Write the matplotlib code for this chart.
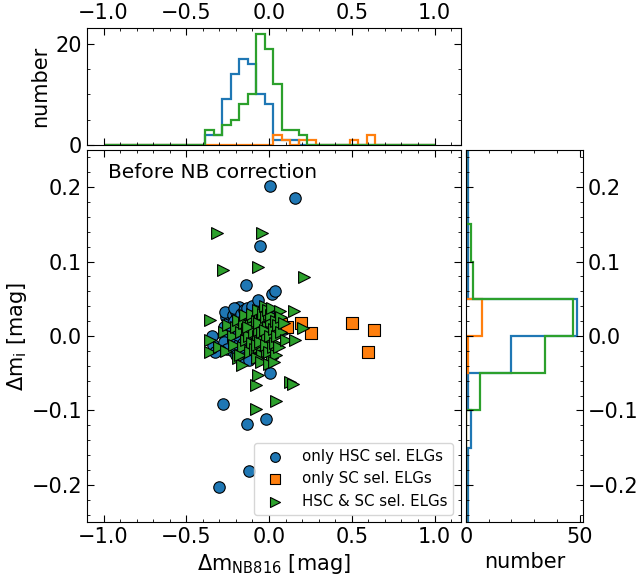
import numpy as np
import matplotlib
matplotlib.use('Agg')
import matplotlib.pyplot as plt
from matplotlib.ticker import MultipleLocator

# scatter points
hsc_x = [-0.347, -0.338, -0.325, -0.303,
         -0.27, -0.26, -0.25, -0.275, -0.245, -0.255, -0.24, -0.265, -0.277,
         -0.18, -0.22, -0.21, -0.2, -0.19, -0.225, -0.205, -0.195, -0.215, -0.185, -0.22, -0.2, -0.19, -0.21,
         -0.17, -0.16, -0.15, -0.14, -0.165, -0.155, -0.13, -0.145, -0.175, -0.135, -0.16, -0.14, -0.17, -0.15, -0.13,
         -0.14, -0.132,
         -0.12, -0.11, -0.1, -0.09, -0.115, -0.105, -0.085, -0.095, -0.12, -0.08, -0.1, -0.11, -0.09, -0.12, -0.085,
         -0.122,
         -0.07, -0.06, -0.05, -0.04, -0.065, -0.035, -0.055, -0.045, -0.056, -0.066,
         -0.02, -0.01, 0.0, -0.015, 0.005, 0.015, 0.005, -0.019,
         0.035, 0.09, 0.156]
hsc_y = [0.000, -0.012, -0.022, -0.203,
         0.012, 0.025, 0.003, -0.008, 0.018, -0.018, 0.030, 0.032, -0.091,
         0.039, 0.028, 0.020, 0.032, 0.025, 0.010, 0.005, 0.015, -0.005, -0.012, -0.020, -0.025, 0.002, 0.038,
         0.030, 0.022, 0.035, 0.015, 0.008, 0.012, 0.028, 0.004, 0.018, 0.038, -0.010, -0.018, -0.025, -0.030, -0.005,
         0.068, -0.118,
         0.025, 0.018, 0.032, 0.010, 0.005, 0.040, 0.028, 0.022, 0.012, 0.002, -0.008, -0.020, -0.028, -0.032, -0.015,
         -0.181,
         0.020, 0.030, 0.012, 0.025, 0.005, 0.036, -0.012, -0.022, 0.121, 0.049,
         0.018, 0.008, 0.028, -0.010, 0.201, 0.056, -0.0495, -0.111,
         0.061, 0.010, 0.185]

sc_x = [0.05, 0.07, 0.106, 0.196, 0.254, 0.502, 0.599, 0.635]
sc_y = [0.012, 0.016, 0.012, 0.018, 0.004, 0.018, -0.022, 0.008]

both_x = [-0.358, -0.358, -0.355,
          -0.317, -0.3,
          -0.281, -0.27, -0.26, -0.25,
          -0.22, -0.21, -0.2, -0.19, -0.185,
          -0.166, -0.17, -0.16, -0.15, -0.14, -0.135, -0.175, -0.145,
          -0.08, -0.12, -0.11, -0.1, -0.095, -0.115, -0.09, -0.105, -0.085, -0.125,
          -0.045, -0.066, -0.066, -0.076, -0.07, -0.065, -0.06, -0.055, -0.05, -0.045, -0.04, -0.035, -0.03,
          -0.075, -0.068, -0.058, -0.048, -0.038, -0.072, -0.052, -0.042, -0.062,
          -0.025, -0.02, -0.015, -0.01, -0.005, 0.0, 0.005, 0.01, 0.015, 0.02, -0.018, -0.008, 0.002, 0.012,
          0.022, -0.022, 0.018, -0.003, 0.008,
          0.065, 0.041, 0.03, 0.035, 0.04, 0.045, 0.05, 0.055, 0.06, 0.07, 0.032, 0.075,
          0.126, 0.09, 0.1,
          0.15, 0.142, 0.16,
          0.212, 0.205]
both_y = [0.021, -0.006, -0.022,
          0.139, -0.015,
          0.089, 0.005, -0.020, 0.015,
          0.000, -0.012, 0.012, -0.030, 0.022,
          -0.039, 0.005, -0.015, 0.018, -0.005, 0.010, -0.025, 0.028,
          -0.066, 0.000, 0.015, -0.010, 0.025, -0.022, 0.005, 0.030, -0.018, 0.012,
          0.139, 0.093, -0.052, -0.098, 0.020, 0.000, -0.015, 0.030, 0.010, -0.025, 0.022, -0.005, 0.015,
          -0.030, 0.035, 0.008, -0.035, 0.030, -0.012, -0.008, 0.005, 0.018,
          0.040, 0.025, 0.000, -0.020, 0.012, 0.030, -0.008, 0.018, -0.030, 0.005, -0.012, 0.035, -0.022, 0.028,
          -0.015, 0.008, 0.038, -0.038, 0.000,
          0.034, -0.087, 0.010, -0.010, 0.020, -0.025, 0.000, 0.015, -0.015, 0.025, -0.035, 0.005,
          -0.062, 0.018, -0.005,
          0.033, -0.065, -0.005,
          0.079, 0.011]

# histogram counts
x_edges = np.linspace(-1, 1, 40)
hsc_xcounts = [0]*12 + [2, 2, 9, 14, 17, 16, 10, 8, 1, 1, 1] + [0]*16
sc_xcounts = [0]*20 + [2, 1, 0, 1, 1, 0, 0, 0, 0, 1, 0, 2] + [0]*7
both_xcounts = [0]*12 + [3, 2, 4, 5, 8, 10, 22, 19, 12, 3, 3, 2] + [0]*15

y_edges = np.linspace(-0.25, 0.25, 11)
hsc_ycounts = [1, 1, 2, 1, 20, 49, 1, 1, 1, 1]
sc_ycounts = [0, 0, 0, 0, 1, 7, 0, 0, 0, 0]
both_ycounts = [0, 0, 0, 6, 35, 47, 3, 2, 0, 0]

c_hsc = '#1f77b4'
c_sc = '#ff7f0e'
c_both = '#2ca02c'
fs_tick = 15
fs_lab = 15

fig = plt.figure(figsize=(6.4, 5.81), dpi=100)
ax = fig.add_axes([0.1359, 0.1015, 0.5844, 0.6403])
axt = fig.add_axes([0.1359, 0.7504, 0.5844, 0.2014], sharex=ax)
axr = fig.add_axes([0.7281, 0.1015, 0.1828, 0.6403], sharey=ax)

ax.scatter(hsc_x, hsc_y, s=68, marker='o', c=c_hsc, edgecolors='k', linewidths=0.8,
           label='only HSC sel. ELGs')
ax.scatter(sc_x, sc_y, s=68, marker='s', c=c_sc, edgecolors='k', linewidths=0.8,
           label='only SC sel. ELGs')
ax.scatter(both_x, both_y, s=72, marker='>', c=c_both, edgecolors='k', linewidths=0.8,
           label='HSC & SC sel. ELGs')

ax.set_xlim(-1.1, 1.16)
ax.set_ylim(-0.25, 0.25)
ax.set_xlabel(r'$\Delta$m$_{\rm NB816}$ [mag]', fontsize=fs_lab)
ax.set_ylabel(r'$\Delta$m$_{\rm i}$ [mag]', fontsize=fs_lab, labelpad=2)
ax.text(0.056, 0.965, 'Before NB correction', transform=ax.transAxes, fontsize=14.5,
        va='top', ha='left')
ax.legend(loc='lower right', fontsize=10.8, markerscale=0.85)

axt.stairs(hsc_xcounts, x_edges, color=c_hsc, lw=1.6)
axt.stairs(sc_xcounts, x_edges, color=c_sc, lw=1.6)
axt.stairs(both_xcounts, x_edges, color=c_both, lw=1.6)
axt.set_ylim(0, 23.1)
axt.set_ylabel('number', fontsize=fs_lab)

axr.stairs(hsc_ycounts, y_edges, color=c_hsc, lw=1.6, orientation='horizontal')
axr.stairs(sc_ycounts, y_edges, color=c_sc, lw=1.6, orientation='horizontal')
axr.stairs(both_ycounts, y_edges, color=c_both, lw=1.6, orientation='horizontal')
axr.set_xlim(0, 51.5)
axr.set_xlabel('number', fontsize=fs_lab)

ax.xaxis.set_major_locator(MultipleLocator(0.5))
ax.xaxis.set_minor_locator(MultipleLocator(0.1))
ax.yaxis.set_major_locator(MultipleLocator(0.1))
ax.yaxis.set_minor_locator(MultipleLocator(0.02))
axt.yaxis.set_major_locator(MultipleLocator(20))
axt.yaxis.set_minor_locator(MultipleLocator(5))
axr.xaxis.set_major_locator(MultipleLocator(50))
axr.xaxis.set_minor_locator(MultipleLocator(10))

for a in (ax, axt, axr):
    a.tick_params(which='both', direction='in', top=True, right=True, labelsize=fs_tick)
    a.tick_params(which='major', length=5)
    a.tick_params(which='minor', length=2.5)
axt.tick_params(labelbottom=False, labeltop=True)
axr.tick_params(labelleft=False, labelright=True)

fig.savefig('out.png', dpi=100)
